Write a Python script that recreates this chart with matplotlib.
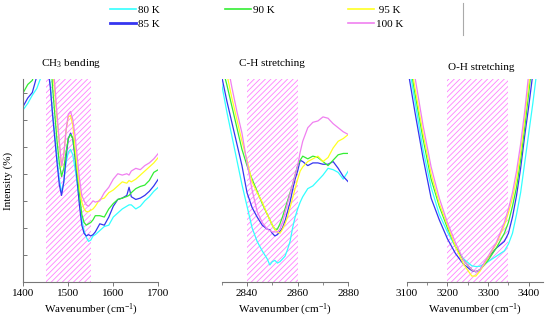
import matplotlib
matplotlib.use('Agg')
import matplotlib.pyplot as plt
from matplotlib.lines import Line2D

plt.rcParams['font.family'] = ['Liberation Serif', 'DejaVu Serif']
plt.rcParams['mathtext.fontset'] = 'custom'
plt.rcParams['mathtext.rm'] = 'Liberation Serif'
plt.rcParams['mathtext.it'] = 'Liberation Serif:italic'
plt.rcParams['hatch.linewidth'] = 0.6

temps = ['80 K', '85 K', '90 K', '95 K', '100 K']
colors = ['#33FFFF', '#3535F0', '#33EE33', '#FFFF22', '#F080F0']

# CH3 bending
x1 = [1400, 1410, 1420, 1430, 1440, 1450, 1460, 1465, 1470, 1475, 1480, 1485, 1490, 1495,
      1500, 1505, 1510, 1515, 1520, 1525, 1530, 1535, 1540, 1545, 1550, 1555, 1560, 1570,
      1580, 1590, 1600, 1610, 1620, 1630, 1635, 1640, 1650, 1660, 1670, 1680, 1690, 1700]
cyan1 = [63.7, 66, 69, 71.5, 76, 85, 73, 62, 54, 46, 38, 33, 37, 44, 48, 49, 47, 42, 36, 29,
         23, 19, 16.5, 15, 15.5, 17, 17.5, 19, 20.5, 21, 24, 25.5, 27, 28, 28.5, 28.5, 27, 28,
         30, 31.5, 33.5, 35]
blue1 = [65, 68, 70, 76, 85, 85, 72, 62, 53, 44, 36, 32, 37, 46, 53, 55, 53, 46, 37, 28,
         21, 18, 17, 17.5, 17, 17.5, 18.5, 21.5, 21, 24, 28, 30.5, 31, 32, 35, 31.5, 30.5, 31,
         32, 33.5, 35.5, 38]
green1 = [70, 73, 74.5, 80, 85, 85, 85, 72, 62, 52, 44, 39, 42, 48, 53, 54.5, 53, 47, 40, 32,
          25, 22, 21, 21.5, 22, 23, 24.5, 24.5, 24, 27, 29, 30.5, 31, 31.6, 32, 33, 34.5, 35.3,
          35.8, 37.5, 40.5, 41.5]
yellow1 = [75.5, 80, 85, 85, 85, 85, 85, 79, 70, 60, 51, 42.5, 47, 56, 61, 61.5, 58, 50, 42, 35,
           29.5, 27, 26, 26, 26.5, 27, 28, 30.5, 31, 33, 34, 35.5, 37, 36.5, 37.5, 37, 38, 39.5,
           41, 42.5, 44, 46]
violet1 = [85, 85, 85, 85, 85, 85, 85, 82, 73, 62, 52, 43, 47, 56, 62, 63, 60, 54, 46, 38,
           32, 30, 28.5, 28, 29, 30, 29.5, 30, 33, 35, 38, 40, 39.5, 40, 39.5, 41, 42, 41.5,
           43, 44, 45.5, 47.5]

# C-H stretching
x2 = [2830, 2832, 2834, 2836, 2838, 2840, 2842, 2844, 2846, 2848, 2849, 2850, 2851, 2852,
      2853, 2854, 2855, 2856, 2857, 2858, 2859, 2860, 2861, 2862, 2864, 2866, 2868, 2870,
      2872, 2874, 2876, 2878, 2880]
cyan2 = [73, 63, 54, 45, 36, 28, 20, 15, 11.5, 8.5, 6.3, 7.5, 8, 7, 7.5, 8.5, 9.5, 12, 15, 20,
         24, 27, 29.5, 31.5, 34.5, 35.5, 37.5, 39.5, 42, 41.5, 40.5, 38, 41]
blue2 = [76, 67, 59, 51, 43, 33, 27.5, 24, 21, 19.5, 19.3, 18, 17, 17.5, 18.6, 20, 22.5, 26,
         29.5, 34, 38, 41, 45, 44.5, 43, 44, 44, 43.5, 43.5, 44.5, 42, 39, 37]
green2 = [80, 73, 65, 57, 49, 43, 38, 33.5, 29, 25, 23, 21, 19.5, 19.5, 21.5, 24, 27, 30, 33, 36,
          39.5, 43, 45, 46.5, 45.5, 46.5, 46, 44.5, 43, 45, 47, 47.5, 47.5]
yellow2 = [85, 77, 68, 60, 52, 45, 37, 33, 29.5, 25, 23, 21, 19.5, 18.5, 18, 19.5, 21.5, 24,
           27.5, 31, 34.5, 38, 41, 42.5, 44.5, 45.5, 46.5, 44.5, 46, 49.5, 52, 53, 54.5]
violet2 = [85, 82, 72, 63, 55, 44, 34, 26, 22, 19.5, 19, 18.5, 18.5, 18.5, 19.5, 22, 25.5, 29,
           32.5, 36, 39.5, 43, 48, 52, 57, 59, 59.5, 61, 60.5, 58.5, 57, 55.5, 54.5]

# O-H stretching
x3 = [3100, 3110, 3120, 3140, 3160, 3180, 3200, 3220, 3240, 3260, 3270, 3280, 3300, 3320,
      3340, 3350, 3360, 3370, 3380, 3390, 3400, 3410, 3420, 3430]
cyan3 = [84, 76, 67, 49, 35, 25, 18.5, 13, 8.5, 6, 5.7, 5.8, 7.5, 9.5, 11.5, 14, 18, 25, 33,
         44, 55, 66, 78, 90]
blue3 = [81, 72, 63, 46, 31, 23, 16, 10.5, 6.5, 4.2, 3.8, 4.5, 9, 12.5, 15, 18, 24, 32, 42,
         54, 65, 77, 90, 100]
green3 = [87, 79, 70, 53, 38, 28, 20, 13, 8, 4.5, 3.8, 4.5, 8, 12.5, 18, 22, 28, 35, 45, 57,
          70, 83, 96, 110]
yellow3 = [90, 81, 72, 55, 40, 29, 21, 13, 6.5, 2.2, 2.2, 4, 9, 14, 21, 25.5, 31, 38, 48, 60,
           73, 86, 100, 112]
violet3 = [94, 85, 76, 58, 42.5, 31, 22, 14.5, 8, 4.5, 3.8, 4.5, 9.5, 14.5, 22, 27, 33, 41, 51,
           63, 77, 90, 104, 118]

W, H = 550, 325
fig = plt.figure(figsize=(5.5, 3.25), dpi=100)

def box(x0, x1):
    return [x0 / W, 1 - 282 / H, (x1 - x0) / W, (282 - 79) / H]

panels = [
    (box(23.3, 158.3), (1400, 1700), (1450, 1550), x1,
     [cyan1, blue1, green1, yellow1, violet1]),
    (box(221.7, 348.3), (2830, 2880), (2840, 2860), x2,
     [cyan2, blue2, green2, yellow2, violet2]),
    (box(406.7, 543), (3100, 3435), (3200, 3350), x3,
     [cyan3, blue3, green3, yellow3, violet3]),
]

axes = []
for rect, xlim, band, xs, series in panels:
    ax = fig.add_axes(rect)
    ax.axvspan(band[0], band[1], facecolor='none', edgecolor='#FF80FF',
               hatch='//////', lw=0)
    for ys, c in zip(series, colors):
        ax.plot(xs, ys, color=c, lw=0.9)
    ax.set_xlim(*xlim)
    ax.set_ylim(0, 75)
    for s in ['top', 'right']:
        ax.spines[s].set_visible(False)
    ax.spines['bottom'].set_color('#777777')
    ax.spines['left'].set_color('#777777')
    ax.tick_params(axis='x', direction='out', length=3, width=0.7, color='#777777',
                   labelsize=8, pad=2)
    ax.tick_params(axis='x', which='minor', direction='out', length=2, width=0.6,
                   color='#777777')
    ax.set_xlabel('Wavenumber (cm$^{-1}$)', fontsize=8, labelpad=3)
    axes.append(ax)

ax1, ax2, ax3 = axes
ax1.set_xticks([1400, 1500, 1600, 1700])
ax1.set_yticks(range(0, 80, 10))
ax1.set_yticklabels([])
ax1.tick_params(axis='y', direction='in', length=3, width=0.7, color='#777777')
ax1.set_ylabel('Intensity (%)', fontsize=8, labelpad=4)

ax2.spines['left'].set_visible(False)
ax2.set_yticks([])
ax2.set_xticks([2840, 2860, 2880])
ax2.set_xticks([2830, 2850, 2870], minor=True)

ax3.spines['left'].set_visible(False)
ax3.set_yticks([])
ax3.set_xticks([3100, 3200, 3300, 3400])
ax3.set_xticks([3150, 3250, 3350], minor=True)

fig.text(71 / W, 1 - 64 / H, 'CH$_3$ bending', ha='center', va='center', fontsize=8)
fig.text(272 / W, 1 - 64 / H, 'C-H stretching', ha='center', va='center', fontsize=8)
fig.text(481 / W, 1 - 67 / H, 'O-H stretching', ha='center', va='center', fontsize=8)

# legend in three column blocks
handles = [Line2D([], [], color=c, lw=1.2 if i != 1 else 2) for i, c in enumerate(colors)]
groups = [([0, 1], 108), ([2], 223), ([3, 4], 346)]
for idx, xpos in groups:
    fig.legend([handles[i] for i in idx], [temps[i] if i != 3 else ' 95 K' for i in idx],
               loc='upper left', bbox_to_anchor=(xpos / W, 1 - 3 / H), frameon=False,
               fontsize=8, handlelength=2.3, handletextpad=0.2, labelspacing=0.35,
               borderpad=0.2, borderaxespad=0)

fig.add_artist(Line2D([463 / W, 463 / W], [1 - 3 / H, 1 - 35 / H], color='#aaaaaa', lw=0.8))

fig.savefig('out.png', dpi=100)
